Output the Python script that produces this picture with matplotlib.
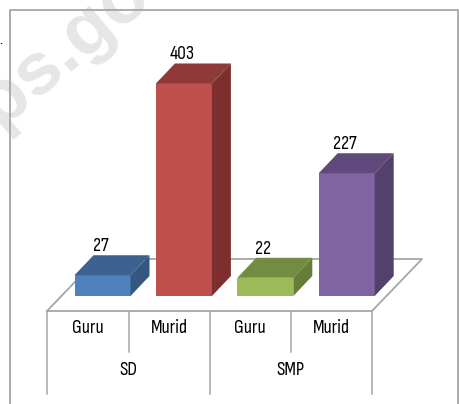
import matplotlib
matplotlib.use("Agg")
import matplotlib.pyplot as plt
import logging

logging.getLogger('matplotlib.font_manager').setLevel(logging.ERROR)
plt.rcParams['font.family'] = ['Sofia Sans Condensed', 'Archivo Narrow', 'Liberation Sans', 'DejaVu Sans']

groups = ['SD', 'SMP']
categories = ['Guru', 'Murid', 'Guru', 'Murid']
values = [27, 403, 22, 227]
front_colors = ['#4f81bd', '#c0504d', '#9bbb59', '#8064a2']
top_colors = ['#3b6290', '#8f3a38', '#728c42', '#604a7b']
side_colors = ['#345780', '#7d2f2e', '#667d3a', '#53406b']

# size of one unit on the axes, in pixels
px_x = 81.4
px_y = 0.51
depth_x = 19 / px_x
depth_y = 20 / px_y
bar_w = 56 / px_x
floor = -13.7

fig = plt.figure(figsize=(4.59, 4.04), dpi=100)
ax = fig.add_axes([0, 0, 1, 1])
ax.set_xlim(-102.5 / px_x, (459 - 102.5) / px_x)
ax.set_ylim(floor - 108 / px_y, floor + 296 / px_y)
ax.axis('off')


def X(p):
    return (p - 102.5) / px_x


def Y(p):
    return floor + (296 - p) / px_y


grey = '#a6a6a6'

# watermark
ax.text(X(-36), Y(158), 'bps.go.id', color='#e6e6e6', fontsize=54, rotation=40,
        family=['Liberation Sans', 'DejaVu Sans'], fontweight='bold',
        ha='left', va='baseline', rotation_mode='anchor', zorder=0)

# chart frame
ax.plot([X(10), X(10), X(458), X(458)], [Y(410), Y(9.5), Y(9.5), Y(410)], color=grey, lw=1.3, zorder=1)

# floor
ax.plot([X(47), X(97), X(422), X(372), X(47)],
        [Y(311), Y(259), Y(259), Y(311), Y(311)], color=grey, lw=1.3, zorder=1)

# category table under the floor
for p, bottom in zip([47, 129, 210, 291, 372], [394, 352, 394, 352, 394]):
    ax.plot([X(p), X(p)], [Y(311), Y(bottom)], color=grey, lw=1.1, zorder=1)

for i, (v, cat) in enumerate(zip(values, categories)):
    left = i - bar_w / 2
    right = i + bar_w / 2
    ax.bar(i, v - floor, width=bar_w, bottom=floor, color=front_colors[i], zorder=3)
    ax.fill([left, right, right + depth_x, left + depth_x],
            [v, v, v + depth_y, v + depth_y], color=top_colors[i], lw=0, zorder=3)
    ax.fill([right, right + depth_x, right + depth_x, right],
            [floor, floor + depth_y, v + depth_y, v], color=side_colors[i], lw=0, zorder=3)
    ax.annotate(str(v), (i - 2 / px_x, v + depth_y), xytext=(0, 0), textcoords='offset points',
                ha='center', va='bottom', fontsize=14, color='black', zorder=4)
    ax.text(X(88 + 81 * i), Y(328), cat, ha='center', va='center', fontsize=14, color='black')

for j, g in enumerate(groups):
    ax.text(X(128.5 + 162.5 * j), Y(370), g, ha='center', va='center', fontsize=14, color='black')

# clipped text from the page beside the chart
ax.text(X(-1), Y(44), '.', fontsize=12, color='black', ha='left', va='baseline', fontweight='bold')

fig.savefig('out.png', dpi=100)
